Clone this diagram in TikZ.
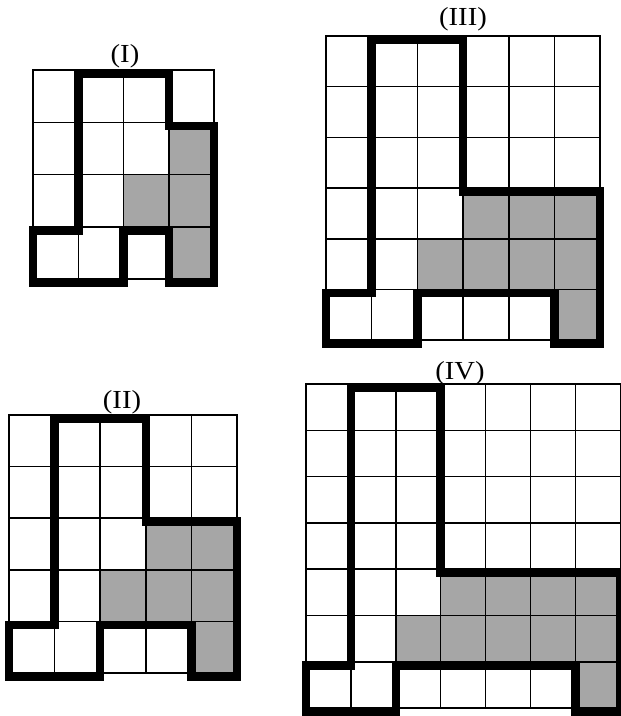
\documentclass[tikz,border=0pt]{standalone}
\usepackage{fontspec}
\setmainfont{Liberation Serif}
\definecolor{cellgray}{RGB}{166,166,166}
\tikzset{
 thingrid/.style={line width=1.5pt, black, line cap=rect},
 outline/.style={line width=8.5pt, black, line join=miter, yshift=-3.5pt},
 shade/.style={fill=cellgray},
 title/.style={font=\fontsize{26}{26}\selectfont, xscale=1.1, anchor=base, inner sep=0pt}
}
\begin{document}
\begin{tikzpicture}[x=1pt,y=-1pt]
\useasboundingbox (0,0) rectangle (621,716);
\fill[white] (0,0) rectangle (621,716);

% Grid I
\begin{scope}[shift={(33,70)}, x=45.25pt, y=-52.25pt]
 \foreach \c/\r in {3/1,2/2,3/2,3/3} \fill[shade] (\c,\r) rectangle ++(1,1);
 \foreach \i in {0,...,4} {\draw[thingrid] (\i,0) -- (\i,4); \draw[thingrid] (0,\i) -- (4,\i);}
 \draw[outline] (1,3) -- (1,0) -- (3,0) -- (3,1) -- (4,1) -- (4,4) -- (3,4) -- (3,3) -- (2,3) -- (2,4) -- (0,4) -- (0,3) -- cycle;
\end{scope}

% Grid II
\begin{scope}[shift={(9,415)}, x=45.6pt, y=-51.6pt]
 \foreach \c/\r in {3/2,4/2,2/3,3/3,4/3,4/4} \fill[shade] (\c,\r) rectangle ++(1,1);
 \foreach \i in {0,...,5} {\draw[thingrid] (\i,0) -- (\i,5); \draw[thingrid] (0,\i) -- (5,\i);}
 \draw[outline] (1,4) -- (1,0) -- (3,0) -- (3,2) -- (5,2) -- (5,5) -- (4,5) -- (4,4) -- (2,4) -- (2,5) -- (0,5) -- (0,4) -- cycle;
\end{scope}

% Grid III
\begin{scope}[shift={(326,36)}, x=45.7pt, y=-50.7pt]
 \foreach \c/\r in {3/3,4/3,5/3,2/4,3/4,4/4,5/4,5/5} \fill[shade] (\c,\r) rectangle ++(1,1);
 \foreach \i in {0,...,6} {\draw[thingrid] (\i,0) -- (\i,6); \draw[thingrid] (0,\i) -- (6,\i);}
 \draw[outline] (1,5) -- (1,0) -- (3,0) -- (3,3) -- (6,3) -- (6,6) -- (5,6) -- (5,5) -- (2,5) -- (2,6) -- (0,6) -- (0,5) -- cycle;
\end{scope}

% Grid IV
\begin{scope}[shift={(306,384)}, x=44.9pt, y=-46.3pt]
 \foreach \c/\r in {3/4,4/4,5/4,6/4,2/5,3/5,4/5,5/5,6/5,6/6} \fill[shade] (\c,\r) rectangle ++(1,1);
 \foreach \i in {0,...,7} {\draw[thingrid] (\i,0) -- (\i,7); \draw[thingrid] (0,\i) -- (7,\i);}
 \draw[outline] (1,6) -- (1,0) -- (3,0) -- (3,4) -- (7,4) -- (7,7) -- (6,7) -- (6,6) -- (2,6) -- (2,7) -- (0,7) -- (0,6) -- cycle;
\end{scope}

\node[title] (t1) at (125,62.5) {(I)};
\node[title] (t3) at (463,25.5) {(III)};
\node[title] (t2) at (122,408.5) {(II)};
\node[title] (t4) at (460,379) {(IV)};
\end{tikzpicture}
\end{document}
